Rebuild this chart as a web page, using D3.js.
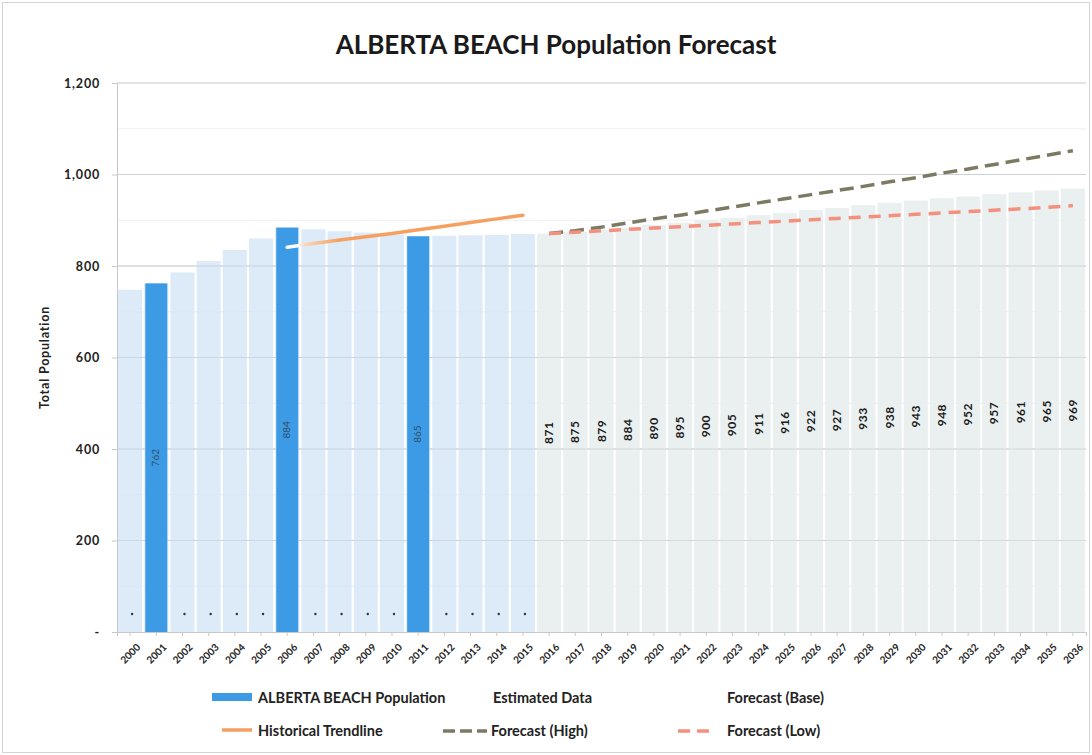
<!DOCTYPE html>
<html>
<head>
<meta charset="utf-8">
<script src="https://cdn.jsdelivr.net/npm/d3@7"></script>
<style>
  html, body { margin: 0; padding: 0; background: #fff; }
  svg { display: block; font-family: Lato, "Open Sans", sans-serif; }
</style>
</head>
<body>
<svg id="chart" width="1092" height="755"></svg>
<script>
// Year categories on the x axis
const years = ["2000","2001","2002","2003","2004","2005","2006","2007","2008","2009",
  "2010","2011","2012","2013","2014","2015","2016","2017","2018","2019","2020",
  "2021","2022","2023","2024","2025","2026","2027","2028","2029","2030","2031",
  "2032","2033","2034","2035","2036"];

// Census counts
const censusYears = ["2001", "2006", "2011"];
const censusValues = [762, 884, 865];

// Estimated population between census years
const estYears = ["2000","2001","2002","2003","2004","2005","2006","2007",
  "2008","2009","2010","2011","2012","2013","2014","2015"];
const estValues = [748, 762, 786, 811, 835, 860, 884, 880, 876, 873, 869, 865, 866, 867, 868, 870];

// Base forecast
const baseYears = ["2016","2017","2018","2019","2020","2021","2022","2023","2024",
  "2025","2026","2027","2028","2029","2030","2031","2032","2033","2034","2035","2036"];
const baseValues = [871, 875, 879, 884, 890, 895, 900, 905, 911, 916, 922, 927, 933, 938, 943, 948, 952, 957, 961, 965, 969];

// High and low forecast scenarios
const highValues = [871, 877, 885, 894, 903, 911, 920, 929, 938, 947, 956, 965, 974, 984, 993, 1003, 1012, 1022, 1032, 1042, 1052];
const lowValues = [871, 874, 877, 880, 883, 886, 889, 892, 895, 898, 901, 904, 907, 910, 913, 916, 919, 922, 925, 928, 932];

// Historical trendline
const trendYears = ["2006","2007","2008","2009","2010","2011","2012","2013","2014","2015"];
const trendValues = [841, 849, 857, 864, 871, 879, 887, 895, 903, 911];

// Y axis ticks
const yTicks = [0, 200, 400, 600, 800, 1000, 1200];

const svg = d3.select("#chart");
const margin = { left: 117, right: 6, top: 83, bottom: 123 };
const W = 1092, H = 755;
const innerW = W - margin.left - margin.right;
const innerH = H - margin.top - margin.bottom;

// outer frame
svg.append("rect").attr("x", 2.5).attr("y", 2.5).attr("width", W - 5).attr("height", H - 5)
  .attr("fill", "#fff").attr("stroke", "#d4d4d4").attr("stroke-width", 1);

svg.append("text").attr("x", 556).attr("y", 54).attr("text-anchor", "middle")
  .attr("font-size", 26).attr("font-weight", 700).attr("fill", "#1a1a1a")
  .text("ALBERTA BEACH Population Forecast");

const g = svg.append("g").attr("transform", `translate(${margin.left},${margin.top})`);

const x = d3.scaleBand().domain(years).range([0, innerW]).paddingInner(0.16).paddingOuter(0.08);
const y = d3.scaleLinear().domain([0, 1200]).range([innerH, 0]);

// grid
g.append("g").selectAll("line").data(d3.range(100, 1200, 100)).join("line")
  .attr("x1", 0).attr("x2", innerW).attr("y1", d => y(d)).attr("y2", d => y(d))
  .attr("stroke", "#efefef").attr("stroke-width", 1);
g.append("g").selectAll("line").data(yTicks.slice(1)).join("line")
  .attr("x1", 0).attr("x2", innerW).attr("y1", d => y(d)).attr("y2", d => y(d))
  .attr("stroke", "#d6d6d6").attr("stroke-width", 1);

const step = x.step();
const wideW = step * 0.92;
const cx = d => x(d) + x.bandwidth() / 2;

// estimated data columns
g.append("g").selectAll("rect").data(estYears.map((d, i) => ({ yr: d, v: estValues[i] }))).join("rect")
  .attr("x", d => cx(d.yr) - wideW / 2).attr("width", wideW)
  .attr("y", d => y(d.v)).attr("height", d => innerH - y(d.v))
  .attr("fill", "#d4e5f6").attr("opacity", 0.8);

// base forecast columns
g.append("g").selectAll("rect").data(baseYears.map((d, i) => ({ yr: d, v: baseValues[i] }))).join("rect")
  .attr("x", d => cx(d.yr) - wideW / 2).attr("width", wideW)
  .attr("y", d => y(d.v)).attr("height", d => innerH - y(d.v))
  .attr("fill", "#e6ecec").attr("opacity", 0.85);

// re-draw gridlines faintly across the columns
g.append("g").selectAll("line").data(yTicks.slice(1)).join("line")
  .attr("x1", 0).attr("x2", innerW).attr("y1", d => y(d)).attr("y2", d => y(d))
  .attr("stroke", "#c4ccd4").attr("stroke-opacity", 0.5).attr("stroke-width", 1);

// small markers of estimated series near the base
g.append("g").selectAll("circle").data(estYears.filter(d => !censusYears.includes(d))).join("circle")
  .attr("cx", d => cx(d) + 2).attr("cy", innerH - 18).attr("r", 1.2).attr("fill", "#333");

// census bars
const census = censusYears.map((d, i) => ({ yr: d, v: censusValues[i] }));
g.append("g").selectAll("rect").data(census).join("rect")
  .attr("x", d => x(d.yr)).attr("width", x.bandwidth())
  .attr("y", d => y(d.v)).attr("height", d => innerH - y(d.v))
  .attr("fill", "#3d9be6");

// census labels
g.append("g").selectAll("text").data(census).join("text")
  .attr("transform", d => `translate(${cx(d.yr) + 3},${(y(d.v) + innerH) / 2}) rotate(-90)`)
  .attr("text-anchor", "middle").attr("font-size", 10).attr("fill", "#2c4f6a")
  .text(d => d.v);

// base forecast labels
g.append("g").selectAll("text").data(baseYears.map((d, i) => ({ yr: d, v: baseValues[i] }))).join("text")
  .attr("transform", d => `translate(${cx(d.yr) + 4},${(y(d.v) + innerH) / 2}) rotate(-90)`)
  .attr("text-anchor", "middle").attr("font-size", 12).attr("font-weight", 700)
  .attr("letter-spacing", 0.5).attr("fill", "#1a1a1a")
  .text(d => d.v);

// historical trendline: white where it crosses the 2006 bar, then orange
// (gradient coordinates are in the plot group's own space)
const defs = svg.append("defs");
const grad = defs.append("linearGradient").attr("id", "trendFade")
  .attr("gradientUnits", "userSpaceOnUse")
  .attr("x1", x(trendYears[0]) + x.bandwidth())
  .attr("x2", cx(trendYears[2]))
  .attr("y1", 0).attr("y2", 0);
grad.append("stop").attr("offset", 0).attr("stop-color", "#ffffff");
grad.append("stop").attr("offset", 0.15).attr("stop-color", "#f9d6bb");
grad.append("stop").attr("offset", 1).attr("stop-color", "#f5a060");

const line = d3.line().x(d => cx(d.yr)).y(d => y(d.v));
g.append("path").datum(trendYears.map((d, i) => ({ yr: d, v: trendValues[i] })))
  .attr("d", line).attr("fill", "none").attr("stroke", "url(#trendFade)")
  .attr("stroke-width", 3.5).attr("stroke-linecap", "round");

// forecast scenarios
g.append("path").datum(baseYears.map((d, i) => ({ yr: d, v: highValues[i] })))
  .attr("d", line).attr("fill", "none").attr("stroke", "#7c7a62")
  .attr("stroke-width", 3.5).attr("stroke-dasharray", "14,7");
g.append("path").datum(baseYears.map((d, i) => ({ yr: d, v: lowValues[i] })))
  .attr("d", line).attr("fill", "none").attr("stroke", "#f4907e")
  .attr("stroke-width", 3.5).attr("stroke-dasharray", "12,8");

// axes
const yAxis = g.append("g").call(d3.axisLeft(y).tickValues(yTicks).tickSize(5)
  .tickFormat(d => d === 0 ? "-" : d3.format(",")(d)));
yAxis.select(".domain").attr("stroke", "#c8c8c8");
yAxis.selectAll(".tick line").attr("stroke", "#c8c8c8");
yAxis.selectAll(".tick text").attr("x", -17).attr("font-size", 12.5).attr("font-weight", 700)
  .attr("letter-spacing", 0.8).attr("fill", "#222").attr("font-family", "Lato, sans-serif");

const xAxis = g.append("g").attr("transform", `translate(0,${innerH})`)
  .call(d3.axisBottom(x).tickSize(4));
xAxis.select(".domain").attr("stroke", "#c8c8c8");
xAxis.selectAll(".tick line").attr("stroke", "#c8c8c8");
xAxis.selectAll(".tick text")
  .attr("font-size", 10).attr("font-weight", 700).attr("fill", "#222").attr("font-family", "Lato, sans-serif")
  .attr("text-anchor", "end").attr("dx", 0).attr("dy", 0)
  .attr("transform", "translate(6,11) rotate(-45)");

svg.append("text")
  .attr("transform", `translate(49,${margin.top + innerH / 2}) rotate(-90)`)
  .attr("text-anchor", "middle").attr("font-size", 12.5).attr("font-weight", 700)
  .attr("letter-spacing", 0.8).attr("fill", "#222")
  .text("Total Population");

// legend
const legend = svg.append("g").attr("font-size", 14.5).attr("font-weight", 700).attr("fill", "#222");
legend.append("rect").attr("x", 212).attr("y", 693).attr("width", 40).attr("height", 8).attr("fill", "#3d9be6");
legend.append("text").attr("x", 258).attr("y", 703).text("ALBERTA BEACH Population");
legend.append("text").attr("x", 493).attr("y", 703).text("Estimated Data");
legend.append("text").attr("x", 727).attr("y", 703).text("Forecast (Base)");
legend.append("line").attr("x1", 222).attr("x2", 252).attr("y1", 730).attr("y2", 730)
  .attr("stroke", "#f5a060").attr("stroke-width", 3.5);
legend.append("text").attr("x", 258).attr("y", 736).text("Historical Trendline");
legend.append("line").attr("x1", 443).attr("x2", 487).attr("y1", 731).attr("y2", 731)
  .attr("stroke", "#7c7a62").attr("stroke-width", 3.5).attr("stroke-dasharray", "12,5");
legend.append("text").attr("x", 491).attr("y", 736).text("Forecast (High)");
legend.append("line").attr("x1", 678).attr("x2", 712).attr("y1", 731).attr("y2", 731)
  .attr("stroke", "#f4907e").attr("stroke-width", 3.5).attr("stroke-dasharray", "12,7");
legend.append("text").attr("x", 727).attr("y", 736).text("Forecast (Low)");
</script>
</body>
</html>
